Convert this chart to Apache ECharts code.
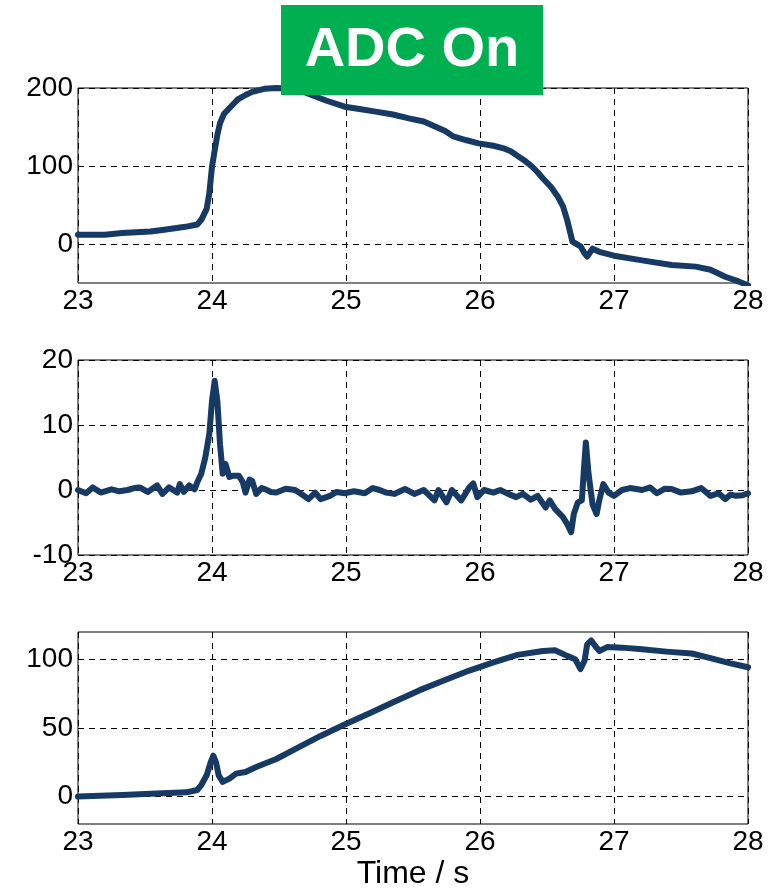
<!DOCTYPE html>
<html>
<head>
<meta charset="utf-8">
<script src="https://cdn.jsdelivr.net/npm/echarts@6/dist/echarts.min.js"></script>
<style>
  html, body { margin: 0; padding: 0; background: #fff; }
  #main { width: 774px; height: 891px; }
</style>
</head>
<body>
<div id="main"></div>
<script>
// top panel
var time1 = [23.00, 23.20, 23.33, 23.54, 23.63, 23.80, 23.89, 23.92, 23.96, 23.98, 24.00, 24.02, 24.04, 24.06, 24.09, 24.14, 24.19, 24.25, 24.30, 24.39, 24.48, 24.60, 24.70, 24.85, 24.99, 25.10, 25.21, 25.35, 25.47, 25.58, 25.66, 25.74, 25.80, 25.90, 25.99, 26.10, 26.17, 26.23, 26.28, 26.34, 26.39, 26.43, 26.47, 26.53, 26.58, 26.62, 26.65, 26.69, 26.75, 26.78, 26.80, 26.84, 26.89, 27.00, 27.21, 27.43, 27.61, 27.72, 27.83, 27.93, 28.00]
var value1 = [12, 12, 14, 16, 18, 22, 25, 31, 45, 65, 99, 120, 140, 155, 167, 176, 185, 191, 195, 199, 200, 199, 194, 184, 176, 173, 170, 166, 161, 157, 151, 145, 138, 133, 129, 126, 123, 119, 113, 106, 99, 92, 84, 73, 61, 48, 31, 3, -3, -12, -16, -6, -10, -15, -21, -27, -29, -33, -42, -48, -53]

// middle panel
var time2 = [23.00, 23.06, 23.11, 23.17, 23.25, 23.31, 23.37, 23.42, 23.46, 23.52, 23.59, 23.63, 23.68, 23.74, 23.76, 23.79, 23.83, 23.87, 23.89, 23.92, 23.95, 23.98, 24.00, 24.02, 24.04, 24.06, 24.08, 24.10, 24.13, 24.16, 24.20, 24.23, 24.25, 24.28, 24.30, 24.33, 24.37, 24.40, 24.44, 24.48, 24.55, 24.62, 24.68, 24.72, 24.77, 24.81, 24.88, 24.93, 24.99, 25.06, 25.14, 25.20, 25.25, 25.30, 25.36, 25.44, 25.51, 25.58, 25.66, 25.69, 25.75, 25.79, 25.86, 25.92, 25.95, 25.98, 26.03, 26.10, 26.15, 26.21, 26.27, 26.32, 26.38, 26.43, 26.49, 26.52, 26.56, 26.62, 26.65, 26.68, 26.70, 26.73, 26.76, 26.78, 26.79, 26.81, 26.84, 26.87, 26.89, 26.92, 26.96, 27.00, 27.06, 27.12, 27.21, 27.27, 27.32, 27.38, 27.43, 27.50, 27.58, 27.65, 27.72, 27.78, 27.83, 27.87, 27.91, 27.96, 28.00]
var value2 = [0, -0.5, 0.4, -0.4, 0.1, -0.2, 0, 0.3, 0.4, -0.3, 0.7, -0.6, 0.4, -0.4, 0.9, -0.3, 0.7, 0.1, 1.2, 2.5, 5, 8.6, 13.7, 16.8, 13.7, 7, 2.5, 4, 2, 2.2, 2.2, 1.2, -0.4, 1.6, 1.4, -0.6, 0.3, 0.1, -0.3, -0.4, 0.2, 0, -0.8, -1.4, -0.4, -1.4, -0.9, -0.3, -0.5, -0.2, -0.5, 0.3, 0, -0.4, -0.6, 0.15, -0.6, 0, -1.6, 0, -1.9, 0, -1.6, 0.4, 1, -1.1, 0, -0.4, 0, -0.6, -1.1, -0.6, -1.5, -0.9, -2.7, -1.6, -2.9, -4.2, -5.2, -6.5, -3.7, -1.9, -1.6, 4.5, 7.3, 2.5, -2.2, -3.7, -1.6, 0.9, -0.4, -0.9, 0, 0.3, 0, 0.4, -0.5, 0.2, 0.15, -0.4, -0.2, 0.3, -0.9, -0.5, -1.4, -0.7, -0.9, -0.8, -0.5]

// bottom panel
var time3 = [23.00, 23.33, 23.63, 23.81, 23.89, 23.92, 23.96, 23.99, 24.01, 24.03, 24.05, 24.08, 24.13, 24.18, 24.25, 24.33, 24.48, 24.62, 24.81, 24.99, 25.18, 25.36, 25.55, 25.73, 25.92, 26.10, 26.28, 26.47, 26.56, 26.65, 26.71, 26.75, 26.76, 26.78, 26.80, 26.83, 26.86, 26.89, 26.95, 27.06, 27.21, 27.39, 27.58, 27.72, 27.87, 28.00]
var value3 = [0, 1.2, 2.4, 3.1, 4.8, 8.4, 15.5, 25, 29.8, 25, 15.5, 10.7, 13.1, 16.7, 17.9, 21.5, 27.4, 34.6, 44.2, 52.5, 60.9, 69.2, 77.6, 84.7, 91.9, 97.9, 103.3, 106.2, 106.7, 102.6, 100.2, 93, 91.9, 99, 111, 113.8, 109.8, 106.2, 109, 108.6, 107.4, 105.7, 104.3, 101, 97.1, 94.3]

var xTicks = [23, 24, 25, 26, 27, 28]
var yTicks1 = [0, 100, 200]
var yTicks2 = [-10, 0, 10, 20]
var yTicks3 = [0, 50, 100]

var lineColor = '#163a63'
var labelFont = 'Liberation Sans, Arial, sans-serif'

function zip(t, v) {
  var out = []
  for (var i = 0; i < t.length; i++) {
    out.push([t[i], v[i]])
  }
  return out
}

var dashed = {
  show: true,
  lineStyle: { color: '#000', type: [6, 5], width: 1 },
}

function makeX(idx) {
  return {
    type: 'value',
    gridIndex: idx,
    min: xTicks[0],
    max: xTicks[xTicks.length - 1],
    interval: 1,
    axisLine: { show: false },
    axisTick: { show: false },
    axisLabel: { fontSize: 28, color: '#000', fontFamily: labelFont, margin: 4 },
    splitLine: dashed,
  }
}

function makeY(idx, min, max, ticks) {
  return {
    type: 'value',
    gridIndex: idx,
    min: min,
    max: max,
    axisLine: { show: false },
    axisTick: { show: false, customValues: ticks },
    axisLabel: { fontSize: 28, color: '#000', fontFamily: labelFont, margin: 5, customValues: ticks },
    splitLine: dashed,
  }
}

var grids = [88, 360, 632].map(function (top) {
  return {
    left: 78,
    right: 26,
    top: top,
    height: 195,
    show: true,
    borderColor: '#000',
    borderWidth: 1,
    backgroundColor: '#fff',
  }
})

var xAxes = [makeX(0), makeX(1), makeX(2)]
xAxes[2].name = 'Time / s'
xAxes[2].nameLocation = 'middle'
xAxes[2].nameGap = 34
xAxes[2].nameTextStyle = { fontSize: 32, color: '#000', fontFamily: labelFont }

var seriesBase = {
  type: 'line',
  showSymbol: false,
  color: lineColor,
  lineStyle: { width: 6, color: lineColor, join: 'round', cap: 'round' },
  clip: true,
}

var myChart = echarts.init(document.getElementById('main'))
myChart.setOption({
  animation: false,
  backgroundColor: '#fff',
  grid: grids,
  xAxis: xAxes,
  yAxis: [
    makeY(0, -50, 200, yTicks1),
    makeY(1, -10, 20, yTicks2),
    makeY(2, -20, 120, yTicks3),
  ],
  series: [
    Object.assign({}, seriesBase, { xAxisIndex: 0, yAxisIndex: 0, data: zip(time1, value1) }),
    Object.assign({}, seriesBase, { xAxisIndex: 1, yAxisIndex: 1, data: zip(time2, value2) }),
    Object.assign({}, seriesBase, { xAxisIndex: 2, yAxisIndex: 2, data: zip(time3, value3) }),
  ],
  graphic: [
    {
      type: 'rect',
      z: 100,
      shape: { x: 281, y: 5, width: 262, height: 90 },
      style: { fill: '#00b050' },
    },
    {
      type: 'text',
      z: 101,
      x: 412,
      y: 51,
      style: {
        text: 'ADC On',
        fill: '#fff',
        font: 'bold 56px Liberation Sans, Arial, sans-serif',
        textAlign: 'center',
        textVerticalAlign: 'middle',
      },
    },
  ],
})
</script>
</body>
</html>
